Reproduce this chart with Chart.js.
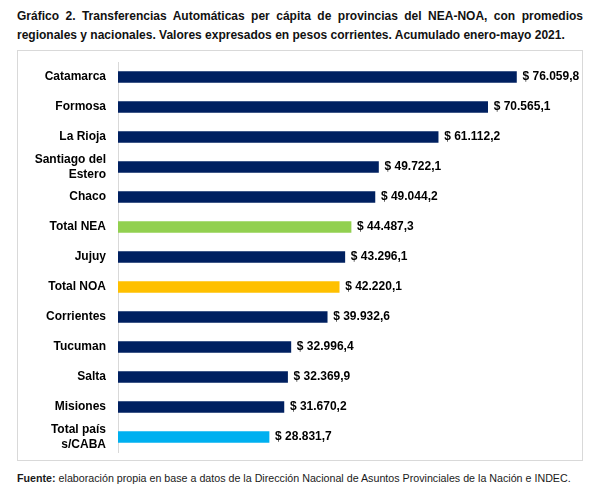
<!DOCTYPE html>
<html lang="es">
<head>
<meta charset="utf-8">
<script src="https://cdn.jsdelivr.net/npm/chart.js@4.4.1/dist/chart.umd.min.js"></script>
<style>
  body { margin: 0; background: #fff; font-family: "Liberation Sans", Arial, sans-serif; }
  #titulo {
    position: absolute; left: 17px; top: 7px; width: 566px;
    font-size: 12px; font-weight: bold; line-height: 19px; color: #111;
    text-align: justify; text-align-last: left;
  }
  #marco {
    position: absolute; left: 17px; top: 50px; width: 564px; height: 409px;
    border: 1px solid #d9d9d9;
  }
  #fuente {
    position: absolute; left: 17px; top: 472px;
    font-size: 10.7px; color: #1a1a1a;
  }
</style>
</head>
<body>
<div id="titulo">Gráfico 2. Transferencias Automáticas per cápita de provincias del NEA-NOA, con promedios regionales y nacionales. Valores expresados en pesos corrientes. Acumulado enero-mayo 2021.</div>
<div id="marco"><canvas id="transferChart"></canvas></div>
<div id="fuente"><b>Fuente:</b> elaboración propia en base a datos de la Dirección Nacional de Asuntos Provinciales de la Nación e INDEC.</div>
<script>
// --- datos ---
const categories = ['Catamarca', 'Formosa', 'La Rioja', ['Santiago del', 'Estero'], 'Chaco', 'Total NEA',
    'Jujuy', 'Total NOA', 'Corrientes', 'Tucuman', 'Salta', 'Misiones', ['Total país', 's/CABA']];
const values = [76059.8, 70565.1, 61112.2, 49722.1, 49044.2, 44487.3, 43296.1, 42220.1,
    39932.6, 32996.4, 32369.9, 31670.2, 28831.7];

// colores: provincias en azul oscuro, promedios resaltados
const colorProv = '#002060';
const colorTotal = { 'Total NEA': '#92D050', 'Total NOA': '#FFC000', 'Total país': '#00B0F0' };
const barColors = categories.map(c => colorTotal[Array.isArray(c) ? c[0] : c] || colorProv);

const fmt = v => {
    const [ent, dec] = v.toFixed(1).split('.');
    return '$ ' + ent.replace(/\B(?=(\d{3})+(?!\d))/g, '.') + ',' + dec;
};

const valueLabels = {
    id: 'valueLabels',
    afterDatasetsDraw(chart) {
        const ctx = chart.ctx;
        ctx.save();
        ctx.font = 'bold 12px "Liberation Sans", Arial, sans-serif';
        ctx.fillStyle = '#000';
        ctx.textBaseline = 'middle';
        chart.getDatasetMeta(0).data.forEach((bar, i) => {
            ctx.fillText(fmt(values[i]), bar.x + 6, bar.y);
        });
        ctx.restore();
    }
};

new Chart(document.getElementById('transferChart').getContext('2d'), {
    type: 'bar',
    data: {
        labels: categories,
        datasets: [{
            data: values,
            backgroundColor: barColors,
            barThickness: 11
        }]
    },
    options: {
        indexAxis: 'y',
        responsive: true,
        maintainAspectRatio: false,
        animation: false,
        layout: { padding: { top: 11, bottom: 8, right: 3, left: 0 } },
        plugins: { legend: { display: false }, tooltip: { enabled: false } },
        scales: {
            x: { display: false, min: 0, max: 88000 },
            y: {
                grid: { display: false, drawTicks: false },
                border: { display: true, color: '#d9d9d9' },
                afterFit: s => { s.width = 100; s.paddingTop = 0; s.paddingBottom = 0; },
                ticks: {
                    autoSkip: false,
                    padding: 12,
                    color: '#000',
                    font: { family: '"Liberation Sans", Arial, sans-serif', size: 12, weight: 'bold', lineHeight: 1.2 }
                }
            }
        }
    },
    plugins: [valueLabels]
});
</script>
</body>
</html>
